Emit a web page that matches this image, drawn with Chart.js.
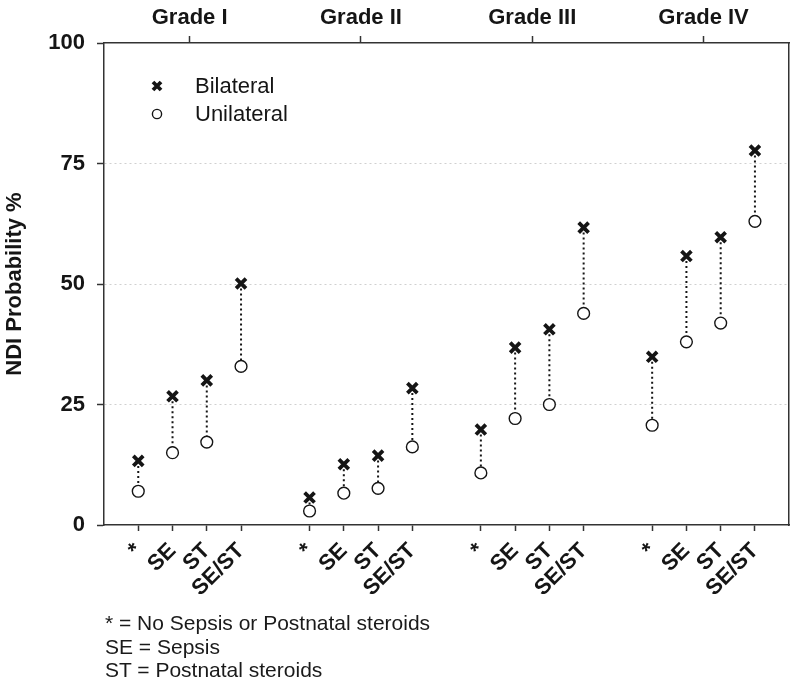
<!DOCTYPE html>
<html>
<head>
<meta charset="utf-8">
<script src="https://cdn.jsdelivr.net/npm/chart.js@4.4.1/dist/chart.umd.min.js"></script>
<style>
body{margin:0;background:#fff;}
#wrap{position:relative;width:800px;height:686px;}
#note{position:absolute;left:105px;top:611px;font:21px "Liberation Sans",Arial,sans-serif;line-height:23.5px;color:#1a1a1a;}
</style>
</head>
<body>
<div id="wrap">
<canvas id="grafico"></canvas>
<div id="note">* = No Sepsis or Postnatal steroids<br>SE = Sepsis<br>ST = Postnatal steroids</div>
</div>
<script>
const grades = ['Grade I', 'Grade II', 'Grade III', 'Grade IV'];
const conditions = ['*', 'SE', 'ST', 'SE/ST'];
const bilateral  = [13.3, 26.7, 30.0, 50.1,  5.7, 12.6, 14.4, 28.4,  19.8, 36.8, 40.6, 61.7,  34.9, 55.8, 59.7, 77.7];
const unilateral = [ 7.0, 15.0, 17.2, 32.9,  2.9,  6.6,  7.6, 16.2,  10.8, 22.1, 25.0, 43.9,  20.7, 38.0, 41.9, 63.0];
const yTicks = [0, 25, 50, 75, 100];

const FONT = '"Liberation Sans", Arial, sans-serif';
const INK = '#151515';
const AXIS = '#333333';

// slot on the x axis: 4 conditions per grade, one empty slot between grades
function slot(i){
    return Math.floor(i / 4) * 5 + (i % 4) + 1;
}
const slots = bilateral.map((v, i) => slot(i));
const gradeCenters = grades.map((g, k) => k * 5 + 2.5);

let pares = [];
bilateral.forEach((v, i) => {
    pares.push({x: slots[i], y: v});
    pares.push({x: slots[i], y: unilateral[i]});
    pares.push({x: slots[i], y: null});
});

const legendaInterna = {
    id: 'legendaInterna',
    afterDatasetsDraw(chart){
        const ctx = chart.ctx;
        const area = chart.chartArea;
        const sets = chart.data.datasets.filter(d => d.label);
        sets.forEach((d, i) => {
            const x = area.left + 53;
            const y = area.top + 43 + i * 28;
            ctx.save();
            ctx.strokeStyle = d.borderColor;
            ctx.fillStyle = d.backgroundColor;
            ctx.lineWidth = d.borderWidth;
            Chart.helpers.drawPoint(ctx, {pointStyle: d.pointStyle, radius: d.pointRadius - 1.3, borderWidth: d.borderWidth, rotation: 0}, x, y);
            ctx.fillStyle = INK;
            ctx.font = '22px ' + FONT;
            ctx.textBaseline = 'middle';
            ctx.fillText(d.label, x + 38, y + 1);
            ctx.restore();
        });
    }
};

const ctx = document.getElementById('grafico');

new Chart(ctx, {
    type: 'scatter',
    data: {
        datasets: [
            {
                label: 'Bilateral',
                data: bilateral.map((v, i) => ({x: slots[i], y: v})),
                pointStyle: 'crossRot',
                pointRadius: 7,
                borderWidth: 3.8,
                borderColor: INK,
                backgroundColor: INK,
                order: 1
            },
            {
                label: 'Unilateral',
                data: unilateral.map((v, i) => ({x: slots[i], y: v})),
                pointStyle: 'circle',
                pointRadius: 5.9,
                borderWidth: 1.4,
                borderColor: INK,
                backgroundColor: '#ffffff',
                order: 1
            },
            {
                data: pares,
                showLine: true,
                spanGaps: false,
                pointRadius: 0,
                borderWidth: 2,
                borderDash: [2, 3],
                borderColor: INK,
                order: 3
            }
        ]
    },
    options: {
        responsive: true,
        maintainAspectRatio: false,
        animation: false,
        layout: {padding: {left: 0, right: 9, top: 0, bottom: 0}},
        plugins: {
            legend: {display: false},
            tooltip: {enabled: false}
        },
        scales: {
            x: {
                type: 'linear',
                position: 'bottom',
                min: 0,
                max: 20,
                afterBuildTicks: s => { s.ticks = slots.map(v => ({value: v})); },
                afterFit: s => { s.height = 161; },
                ticks: {
                    autoSkip: false,
                    minRotation: 45,
                    maxRotation: 45,
                    padding: 7,
                    color: INK,
                    font: {family: FONT, size: 22, weight: 'bold'},
                    callback: (v) => conditions[slots.indexOf(v) % 4]
                },
                grid: {drawOnChartArea: false, tickLength: 6, tickColor: AXIS, tickWidth: 1.5},
                border: {color: AXIS, width: 1.5}
            },
            x2: {
                type: 'linear',
                position: 'top',
                min: 0,
                max: 20,
                afterBuildTicks: s => { s.ticks = gradeCenters.map(v => ({value: v})); },
                afterFit: s => { s.height = 43; },
                ticks: {
                    autoSkip: false,
                    maxRotation: 0,
                    padding: 5,
                    color: INK,
                    font: {family: FONT, size: 22, weight: 'bold'},
                    callback: (v) => grades[gradeCenters.indexOf(v)]
                },
                grid: {drawOnChartArea: false, tickLength: 7, tickColor: AXIS, tickWidth: 1.5},
                border: {color: AXIS, width: 1.5}
            },
            y: {
                min: 0,
                max: 100,
                afterBuildTicks: s => { s.ticks = yTicks.map(v => ({value: v})); },
                afterFit: s => { s.width = 104; },
                ticks: {
                    padding: 12,
                    color: INK,
                    font: {family: FONT, size: 22, weight: 'bold'}
                },
                title: {
                    display: true,
                    text: 'NDI Probability %',
                    color: INK,
                    font: {family: FONT, size: 22, weight: 'bold'},
                    padding: {top: 2, bottom: 0}
                },
                grid: {
                    color: c => (c.tick && (c.tick.value === 0 || c.tick.value === 100)) ? 'rgba(0,0,0,0)' : '#d0d0d0',
                    lineWidth: 1,
                    tickLength: 7,
                    tickColor: AXIS,
                    tickWidth: 1.5
                },
                border: {color: AXIS, width: 1.5, dash: [2, 3]}
            },
            yr: {
                position: 'right',
                min: 0,
                max: 100,
                afterFit: s => { s.width = 0; },
                ticks: {display: false},
                grid: {drawOnChartArea: false, drawTicks: false},
                border: {color: AXIS, width: 1.5}
            }
        }
    },
    plugins: [legendaInterna]
});
</script>
</body>
</html>
